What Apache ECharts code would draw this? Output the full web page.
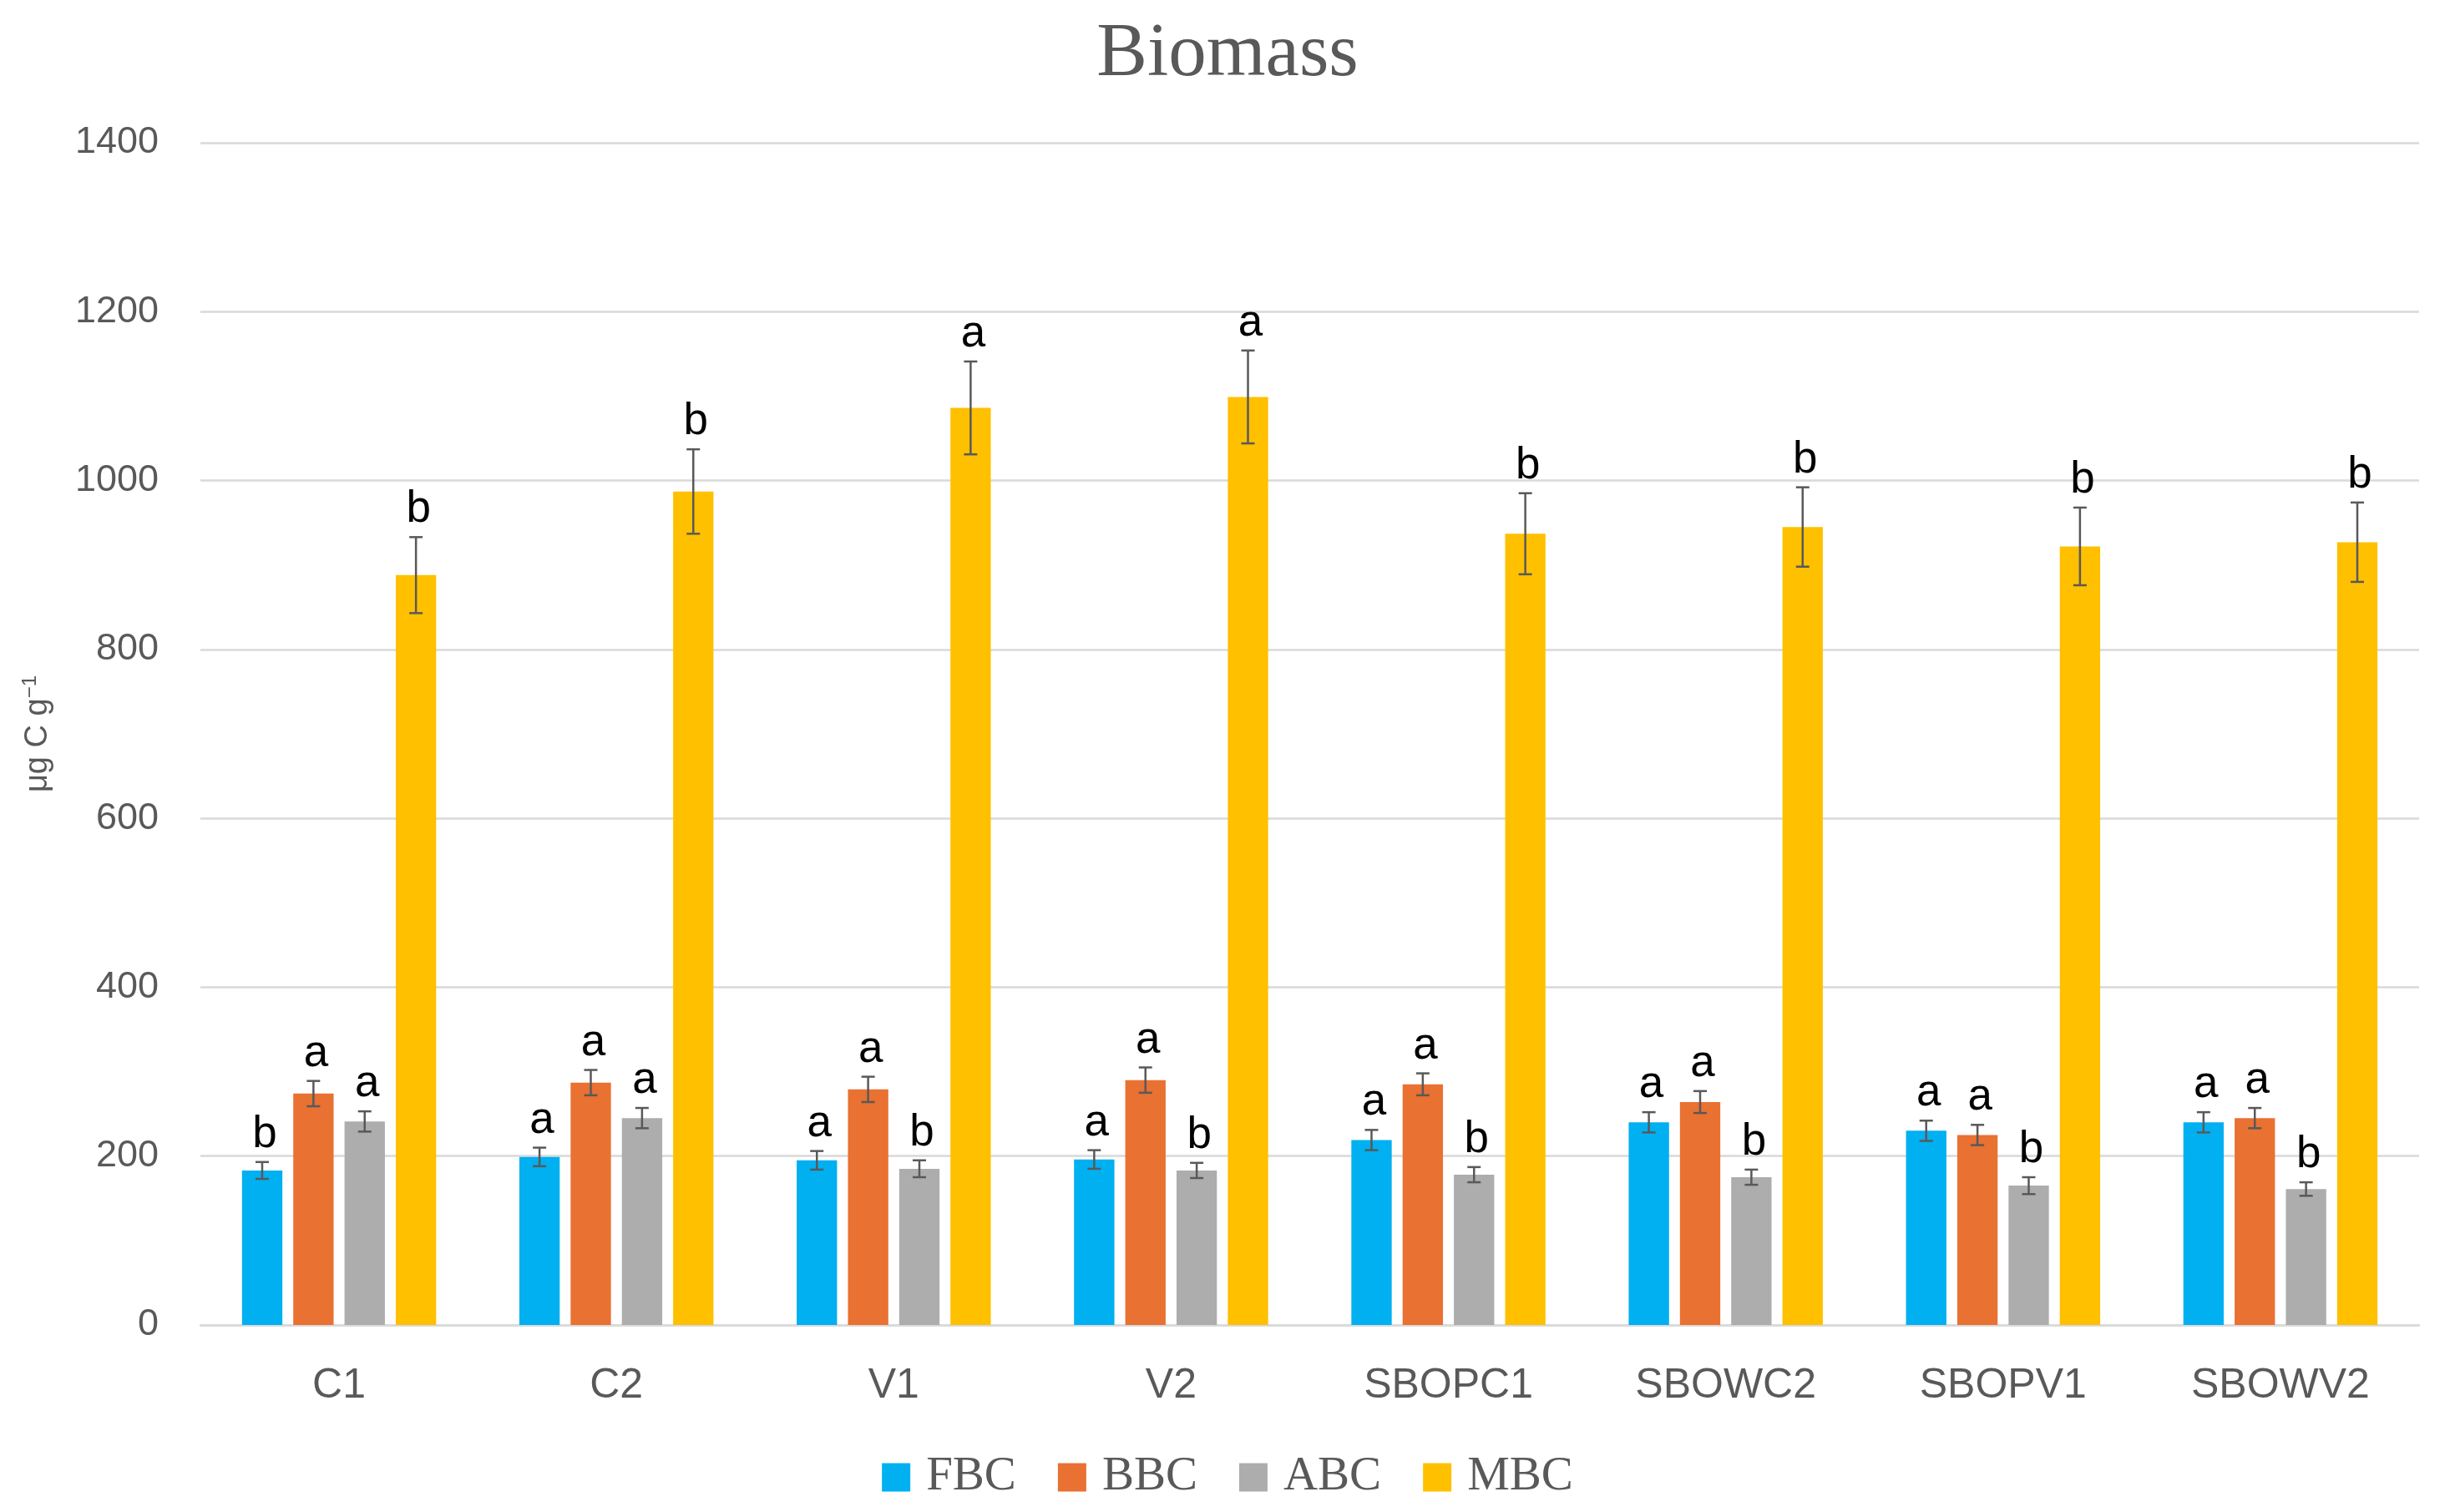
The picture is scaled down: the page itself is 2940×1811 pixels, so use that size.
<!DOCTYPE html>
<html>
<head>
<meta charset="utf-8">
<script src="https://cdn.jsdelivr.net/npm/echarts@6/dist/echarts.min.js"></script>
<style>
  html, body { margin: 0; padding: 0; background: #ffffff; }
  #chart { width: 2940px; height: 1811px; }
</style>
</head>
<body>
<div id="chart"></div>
<script>
// ---- Data ----
const categories = ['C1', 'C2', 'V1', 'V2', 'SBOPC1', 'SBOWC2', 'SBOPV1', 'SBOWV2'];
const seriesNames = ['FBC', 'BBC', 'ABC', 'MBC'];

const fbcValues = [183, 199, 195, 196, 219, 240, 230, 240];
const bbcValues = [274, 287, 279, 290, 285, 264, 225, 245];
const abcValues = [241, 245, 185, 183, 178, 175, 165, 161];
const mbcValues = [888, 987, 1086, 1099, 937, 945, 922, 927];

const fbcErrors = [10, 11, 11, 11, 12, 12, 12, 12];
const bbcErrors = [15, 15, 15, 15, 13, 13, 12, 12];
const abcErrors = [12, 12, 10, 9, 9, 9, 10, 8];
const mbcErrors = [45, 50, 55, 55, 48, 47, 46, 47];

const fbcLetters = ['b', 'a', 'a', 'a', 'a', 'a', 'a', 'a'];
const bbcLetters = ['a', 'a', 'a', 'a', 'a', 'a', 'a', 'a'];
const abcLetters = ['a', 'a', 'b', 'b', 'b', 'b', 'b', 'b'];
const mbcLetters = ['b', 'b', 'a', 'a', 'b', 'b', 'b', 'b'];

const yTicks = { min: 0, max: 1400, interval: 200 };

// ---- Styling ----
const colors = ['#00B0F0', '#E97132', '#ADADAD', '#FFC000'];
const allValues = [fbcValues, bbcValues, abcValues, mbcValues];
const allErrors = [fbcErrors, bbcErrors, abcErrors, mbcErrors];
const allLetters = [fbcLetters, bbcLetters, abcLetters, mbcLetters];

const CAT_GAP = 0.30;
const BAR_GAP = 0.27;
const N = seriesNames.length;

const sansFont = '"Liberation Sans", Arial, sans-serif';
const serifFont = '"Liberation Serif", "Times New Roman", serif';
const axisGray = '#595959';

function makeErrorSeries(k) {
  return {
    type: 'custom',
    name: 'err-' + seriesNames[k],
    z: 5,
    silent: true,
    encode: { x: 0, y: 1 },
    data: categories.map((c, i) => [i, allValues[k][i], allErrors[k][i]]),
    renderItem: function (params, api) {
      const ci = api.value(0);
      const v = api.value(1);
      const e = api.value(2);
      const center = api.coord([ci, v]);
      const band = api.size([1, 0])[0];
      const catGapPx = band * CAT_GAP;
      const w = (band - catGapPx) / (N + (N - 1) * BAR_GAP);
      const widthSum = N * w + (N - 1) * w * BAR_GAP;
      const x = center[0] - widthSum / 2 + k * w * (1 + BAR_GAP) + w / 2;
      const yTop = api.coord([ci, v + e])[1];
      const yBot = api.coord([ci, v - e])[1];
      const cap = 8;
      const ls = { stroke: '#595959', lineWidth: 2.5 };
      return {
        type: 'group',
        children: [
          { type: 'line', shape: { x1: x, y1: yTop, x2: x, y2: yBot }, style: ls },
          { type: 'line', shape: { x1: x - cap, y1: yTop, x2: x + cap, y2: yTop }, style: ls },
          { type: 'line', shape: { x1: x - cap, y1: yBot, x2: x + cap, y2: yBot }, style: ls },
          {
            type: 'text',
            x: x + 3,
            y: yTop - 6,
            style: {
              text: allLetters[k][params.dataIndex],
              fill: '#000000',
              font: '53px ' + sansFont,
              align: 'center',
              verticalAlign: 'bottom'
            }
          }
        ]
      };
    }
  };
}

const barSeries = seriesNames.map((name, k) => ({
  type: 'bar',
  name: name,
  data: allValues[k],
  itemStyle: { color: colors[k] },
  barCategoryGap: (CAT_GAP * 100) + '%',
  barGap: (BAR_GAP * 100) + '%'
}));

const errorSeries = seriesNames.map((n, k) => makeErrorSeries(k));

const chart = echarts.init(document.getElementById('chart'), null, { renderer: 'canvas' });

chart.setOption({
  backgroundColor: '#ffffff',
  animation: false,
  title: {
    text: 'Biomass',
    left: 'center',
    top: 16,
    textStyle: {
      fontFamily: serifFont,
      fontSize: 91,
      fontWeight: 'normal',
      color: axisGray
    }
  },
  legend: {
    data: seriesNames.map((n) => ({ name: n, icon: 'rect' })),
    left: 'center',
    top: 1736,
    itemWidth: 34,
    itemHeight: 34,
    itemGap: 50,
    textStyle: {
      fontFamily: serifFont,
      fontSize: 57,
      color: axisGray,
      padding: [0, 0, 0, 14]
    }
  },
  grid: {
    left: 240,
    right: 43,
    top: 171,
    bottom: 224,
    containLabel: false
  },
  xAxis: {
    type: 'category',
    data: categories,
    axisTick: { show: false },
    axisLine: { show: true, lineStyle: { color: '#D9D9D9', width: 2.5 } },
    axisLabel: {
      margin: 48,
      fontFamily: sansFont,
      fontSize: 50,
      color: axisGray
    }
  },
  yAxis: {
    type: 'value',
    min: yTicks.min,
    max: yTicks.max,
    interval: yTicks.interval,
    axisLine: { show: false },
    axisTick: { show: false },
    splitLine: { show: true, lineStyle: { color: '#D9D9D9', width: 2.5 } },
    axisLabel: {
      margin: 50,
      fontFamily: sansFont,
      fontSize: 45,
      color: axisGray,
      formatter: (v) => String(v)
    },
    name: '{a|μg C g}{s|−1}',
    nameLocation: 'middle',
    nameRotate: 90,
    nameGap: 172,
    nameTextStyle: {
      color: axisGray,
      rich: {
        a: { fontFamily: sansFont, fontSize: 38, color: axisGray, lineHeight: 44 },
        s: { fontFamily: sansFont, fontSize: 24, color: axisGray, verticalAlign: 'top', lineHeight: 24 }
      }
    }
  },
  series: barSeries.concat(errorSeries)
});
</script>
</body>
</html>
